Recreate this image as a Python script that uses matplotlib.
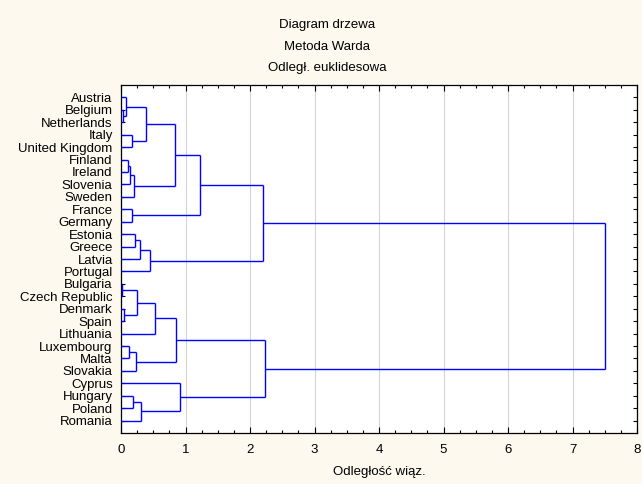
import matplotlib
matplotlib.use('Agg')
import matplotlib.pyplot as plt
from matplotlib.ticker import MultipleLocator, FixedLocator
import numpy as np

plt.rcParams['font.family'] = ['Liberation Sans', 'DejaVu Sans']

# leaves, top to bottom
countries = ["Austria", "Belgium", "Netherlands", "Italy", "United Kingdom",
             "Finland", "Ireland", "Slovenia", "Sweden", "France", "Germany",
             "Estonia", "Greece", "Latvia", "Portugal", "Bulgaria",
             "Czech Republic", "Denmark", "Spain", "Lithuania", "Luxembourg",
             "Malta", "Slovakia", "Cyprus", "Hungary", "Poland", "Romania"]

# merges: (child a, child b, linkage distance); ints refer to earlier merges
merges = [
    ("Belgium", "Netherlands", 0.03),      # 0
    ("Austria", 0, 0.07),                  # 1
    ("Italy", "United Kingdom", 0.175),    # 2
    (1, 2, 0.39),                          # 3
    ("Finland", "Ireland", 0.11),          # 4
    (4, "Slovenia", 0.135),                # 5
    (5, "Sweden", 0.195),                  # 6
    (3, 6, 0.83),                          # 7
    ("France", "Germany", 0.17),           # 8
    (7, 8, 1.22),                          # 9
    ("Estonia", "Greece", 0.21),           # 10
    (10, "Latvia", 0.29),                  # 11
    (11, "Portugal", 0.455),               # 12
    (9, 12, 2.195),                        # 13
    ("Bulgaria", "Czech Republic", 0.02),  # 14
    ("Denmark", "Spain", 0.045),           # 15
    (14, 15, 0.25),                        # 16
    (16, "Lithuania", 0.52),               # 17
    ("Luxembourg", "Malta", 0.125),        # 18
    (18, "Slovakia", 0.24),                # 19
    (17, 19, 0.845),                       # 20
    ("Hungary", "Poland", 0.18),           # 21
    (21, "Romania", 0.31),                 # 22
    ("Cyprus", 22, 0.915),                 # 23
    (20, 23, 2.24),                        # 24
    (13, 24, 7.50),                        # 25
]

title_lines = ["Diagram drzewa", "Metoda Warda", "Odległ. euklidesowa"]
xlabel = "Odległość wiąz."

bg = '#fdf9ef'
blue = '#0000ff'
fs = 9.5

fig = plt.figure(figsize=(6.42, 4.84), dpi=100, facecolor=bg)
ax = fig.add_axes([121/642, 1-433/484, 516/642, 348/484])
ax.set_facecolor('white')

pos = {c: i + 1 for i, c in enumerate(countries)}
node_y = []
node_h = []


def get(n):
    if isinstance(n, str):
        return pos[n], 0.0
    return node_y[n], node_h[n]


for a, b, h in merges:
    ya, ha = get(a)
    yb, hb = get(b)
    ax.plot([ha, h], [ya, ya], color=blue, lw=1.0, solid_capstyle='butt', zorder=3)
    ax.plot([hb, h], [yb, yb], color=blue, lw=1.0, solid_capstyle='butt', zorder=3)
    ax.plot([h, h], [ya, yb], color=blue, lw=1.0, solid_capstyle='butt', zorder=3)
    node_y.append((ya + yb) / 2)
    node_h.append(h)

ax.set_xlim(0, 8)
ax.set_ylim(len(countries) + 1, 0)
ax.xaxis.set_major_locator(MultipleLocator(1))
ax.xaxis.set_minor_locator(MultipleLocator(0.25))
ax.yaxis.set_major_locator(FixedLocator(range(1, len(countries) + 1)))
ax.set_yticklabels(countries)
ax.grid(axis='x', which='major', color='#d4d4d4', lw=0.8, zorder=0)

ax.tick_params(axis='both', which='both', direction='in', top=True, right=True,
               labelsize=fs, colors='black', width=0.8)
ax.tick_params(axis='x', which='major', length=4, pad=8)
ax.tick_params(axis='x', which='minor', length=2.5)
ax.tick_params(axis='y', which='major', length=3, pad=6)
for s in ax.spines.values():
    s.set_linewidth(0.9)

ax.set_xlabel(xlabel, fontsize=fs, labelpad=7)

for i, t in enumerate(title_lines):
    fig.text(0.509, 0.948 - i * 0.0445, t, ha='center', va='center', fontsize=fs)

fig.savefig('out.png', dpi=100, facecolor=bg)
